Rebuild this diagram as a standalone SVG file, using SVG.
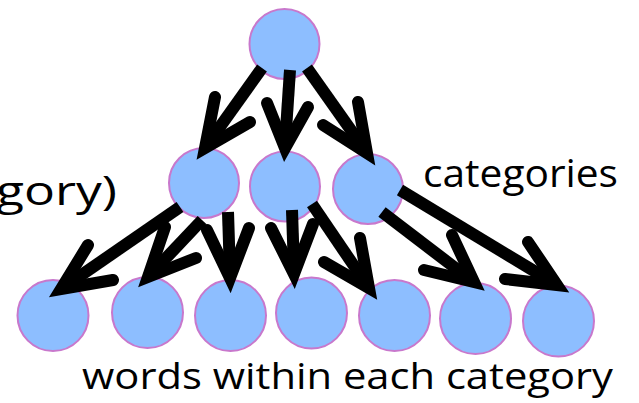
<svg xmlns="http://www.w3.org/2000/svg" width="639" height="403" viewBox="0 0 639 403">
<style>
.node{fill:#8DBEFF;stroke:#C878CC;stroke-width:2}
.shaft{fill:none;stroke:#000;stroke-width:12;stroke-linecap:butt}
.head{fill:none;stroke:#000;stroke-width:12;stroke-linecap:round;stroke-linejoin:miter;stroke-miterlimit:10}
.lbl{font-family:"Open Sans","Liberation Sans",sans-serif;fill:#000}
</style>
<rect width="639" height="403" fill="#fff"/>
<g id="nodes">
<g id="root"><circle class="node" cx="284.5" cy="44" r="35"/></g>
<g id="cat1"><circle class="node" cx="204" cy="183" r="35"/></g>
<g id="cat2"><circle class="node" cx="285" cy="186.5" r="35"/></g>
<g id="cat3"><circle class="node" cx="368" cy="189" r="35"/></g>
<g id="w1"><circle class="node" cx="53" cy="315.5" r="35.5"/></g>
<g id="w2"><circle class="node" cx="147.5" cy="312.5" r="35.5"/></g>
<g id="w3"><circle class="node" cx="230.5" cy="315.5" r="35.5"/></g>
<g id="w4"><circle class="node" cx="311.5" cy="313" r="35.5"/></g>
<g id="w5"><circle class="node" cx="394.5" cy="315.5" r="35.5"/></g>
<g id="w6"><circle class="node" cx="475.5" cy="318.5" r="35.5"/></g>
<g id="w7"><circle class="node" cx="558.5" cy="321" r="35.5"/></g>
</g>
<g id="connectors">
<path class="shaft" d="M262,68 L207,145"/><path class="head" d="M215,97 L205,148 L250,122"/>
<path class="shaft" d="M290,70 L285,145"/><path class="head" d="M267,103 L285,148 L308,107"/>
<path class="shaft" d="M307,68 L365,150"/><path class="head" d="M358,102 L367,153 L323,125"/>
<path class="shaft" d="M180,207 L64,287"/><path class="head" d="M88,245 L61,289 L113,280"/>
<path class="shaft" d="M202,220 L150,275"/><path class="head" d="M165,227 L148,277 L196,258"/>
<path class="shaft" d="M228,212 L230,275"/><path class="head" d="M207,230 L230,278 L249,228"/>
<path class="shaft" d="M292,210 L294,271"/><path class="head" d="M271,228 L294,274 L313,224"/>
<path class="shaft" d="M312,204 L367,285"/><path class="head" d="M360,238 L369,288 L324,262"/>
<path class="shaft" d="M382,212 L471,280"/><path class="head" d="M452,235 L474,282 L424,270"/>
<path class="shaft" d="M400,190 L554,283"/><path class="head" d="M528,242 L557,285 L505,279"/>
</g>
<g id="labels">
<text class="lbl" x="117" y="205" font-size="40" text-anchor="end" textLength="121" lengthAdjust="spacingAndGlyphs">gory)</text>
<text class="lbl" x="423" y="187" font-size="38" textLength="195" lengthAdjust="spacingAndGlyphs">categories</text>
<text class="lbl" x="82" y="389" font-size="36" textLength="531" lengthAdjust="spacingAndGlyphs">words within each category</text>
</g>
</svg>
